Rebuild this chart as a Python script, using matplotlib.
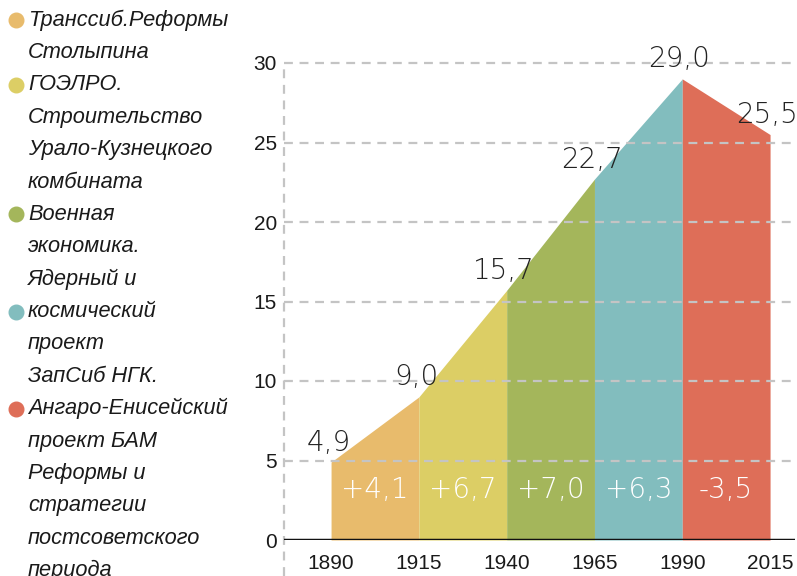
import matplotlib.pyplot as plt
from matplotlib.lines import Line2D

years = [1890, 1915, 1940, 1965, 1990, 2015]
values = [4.9, 9.0, 15.7, 22.7, 29.0, 25.5]
value_labels = ['4,9', '9,0', '15,7', '22,7', '29,0', '25,5']
delta_labels = ['+4,1', '+6,7', '+7,0', '+6,3', '-3,5']
colors = ['#E8BB6C', '#DCCE65', '#A4B65B', '#82BDBE', '#DE6E58']

legend_groups = [
    ['Транссиб.Реформы', 'Столыпина'],
    ['ГОЭЛРО.', 'Строительство', 'Урало-Кузнецкого', 'комбината'],
    ['Военная', 'экономика.', 'Ядерный и'],
    ['космический', 'проект', 'ЗапСиб НГК.'],
    ['Ангаро-Енисейский', 'проект БАМ', 'Реформы и', 'стратегии',
     'постсоветского', 'периода'],
]

W, H = 797, 576
fig = plt.figure(figsize=(W / 100, H / 100), dpi=100)
x0, x1 = 284, 795
y_zero = 540
px_per_unit = (540 - 63) / 30
ytop = 32
ax = fig.add_axes([x0 / W, (H - y_zero) / H, (x1 - x0) / W,
                   ytop * px_per_unit / H])
ax.set_xlim(1876.6, 2022.1)
ax.set_ylim(0, ytop)

# сегменты
for i in range(len(years) - 1):
    ax.fill_between(years[i:i + 2], values[i:i + 2], 0, color=colors[i],
                    linewidth=0, zorder=1)
    ax.text((years[i] + years[i + 1]) / 2, 3.15, delta_labels[i],
            color='white', fontsize=20, ha='center', va='center',
            family='DejaVu Sans', fontweight='light', zorder=4)

for x, y, lab in zip(years, values, value_labels):
    ax.annotate(lab, (x, y), xytext=(-2, 14), textcoords='offset points',
                ha='center', va='center', fontsize=20, color='#222222',
                family='DejaVu Sans', fontweight='light', zorder=4)

# сетка
for t in range(5, 31, 5):
    ax.axhline(t, color='#c4c4c4', lw=1.6, ls=(0, (4, 3)), zorder=3)
ax.axhline(0, color='#111111', lw=2.5, zorder=5)
ax.plot([x0 / W, x0 / W], [0, (H - 63) / H], transform=fig.transFigure,
        color='#c4c4c4', lw=1.6, ls=(0, (4, 3)), clip_on=False, zorder=3)

for s in ax.spines.values():
    s.set_visible(False)
ax.set_xticks(years)
ax.set_xticklabels([str(y) for y in years])
ax.set_yticks(range(0, 31, 5))
ax.tick_params(length=0, labelsize=15, colors='#1a1a1a')
ax.tick_params(axis='x', pad=10)
ax.tick_params(axis='y', pad=5)
for lab in ax.get_xticklabels() + ax.get_yticklabels():
    lab.set_family('Liberation Sans')

# легенда слева
line = 0
for color, group in zip(colors, legend_groups):
    for j, txt in enumerate(group):
        ypx = 20 + 32.4 * line
        if j == 0:
            fig.add_artist(Line2D([16 / W], [1 - ypx / H], marker='o',
                                  markersize=10.5, color=color, lw=0,
                                  transform=fig.transFigure))
        fig.text(28 / W, 1 - ypx / H, txt, fontsize=15.7, style='italic',
                 family='Liberation Sans', color='#1a1a1a', va='center')
        line += 1

fig.savefig('out.png', dpi=100)
